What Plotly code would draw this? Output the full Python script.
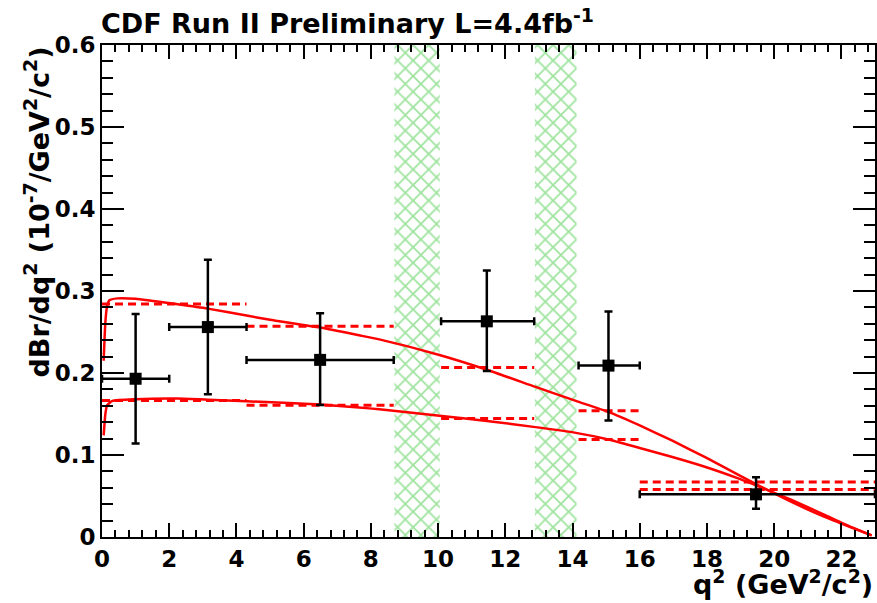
import plotly.graph_objects as go

# ---------------- data ----------------
# measured points (CDF Run II)
q2_center = [1.0, 3.15, 6.49, 11.45, 15.07, 19.46]
q2_lo = [0.0, 2.0, 4.3, 10.09, 14.18, 16.0]
q2_hi = [2.0, 4.3, 8.68, 12.86, 16.0, 23.0]
dbr = [0.193, 0.256, 0.216, 0.263, 0.209, 0.052]
dbr_up = [0.272, 0.338, 0.273, 0.325, 0.275, 0.073]
dbr_dn = [0.114, 0.174, 0.161, 0.2025, 0.142, 0.0346]

# binned theory predictions (dashed)
th_lo = [0.0, 4.3, 10.09, 14.18, 16.0]
th_hi = [4.3, 8.68, 12.86, 16.0, 23.0]
th_upper = [0.284, 0.257, 0.2066, 0.154, 0.067]
th_lower = [0.1665, 0.1607, 0.1444, 0.119, 0.0578]

# continuous theory curves (solid)
cu_x = [0.05, 0.1, 0.15, 0.22, 0.46, 1.0, 2.25, 3.15, 4.3, 5.0, 6.49, 7.65, 8.25,
        10.04, 11.45, 12.9, 14.1, 15.07, 16.0, 16.97, 17.96, 18.95, 19.46, 20.5, 21.5,
        22.3, 22.9]
cu_y = [0.215, 0.262, 0.281, 0.2887, 0.291, 0.2905, 0.2838, 0.2785, 0.270, 0.265, 0.2554,
        0.2460, 0.241, 0.222, 0.204, 0.183, 0.166, 0.1525, 0.136, 0.1175, 0.097, 0.0755,
        0.0645, 0.043, 0.0245, 0.0115, 0.002]
cl_x = [0.05, 0.1, 0.15, 0.31, 1.0, 2.25, 3.15, 4.3, 6.5, 7.65, 8.25, 10.04, 11.45,
        12.9, 14.1, 15.07, 16.0, 16.97, 17.96, 18.95, 19.46, 20.5, 21.5, 22.3, 22.9]
cl_y = [0.124, 0.150, 0.1606, 0.1659, 0.168, 0.1688, 0.1675, 0.1655, 0.1615, 0.158, 0.1557,
        0.1480, 0.1415, 0.134, 0.127, 0.119, 0.1085, 0.0976, 0.0854, 0.0712, 0.063, 0.0455,
        0.027, 0.012, 0.002]

# charmonium veto regions (hatched)
veto_lo = [8.70, 12.88]
veto_hi = [10.05, 14.12]

x_ticks = [0, 2, 4, 6, 8, 10, 12, 14, 16, 18, 20, 22]
y_ticks = [0, 0.1, 0.2, 0.3, 0.4, 0.5, 0.6]
X_RANGE = [0, 23]
Y_RANGE = [0, 0.6]

FONT = "DejaVu Sans"
RED = "#ff0000"
GREEN = "#3fc83f"

fig = go.Figure()

# hatched veto bands
fig.add_trace(go.Bar(
    x=[(a + b) / 2 for a, b in zip(veto_lo, veto_hi)],
    y=[Y_RANGE[1] - Y_RANGE[0]] * len(veto_lo),
    base=[Y_RANGE[0]] * len(veto_lo),
    width=[b - a for a, b in zip(veto_lo, veto_hi)],
    marker=dict(color="rgba(0,0,0,0)", line=dict(width=0),
                pattern=dict(shape="x", fgcolor=GREEN, bgcolor="rgba(0,0,0,0)",
                             size=11, solidity=0.3, fillmode="overlay")),
    hoverinfo="skip", showlegend=False,
))

# dashed binned predictions
for vals in (th_upper, th_lower):
    xs, ys = [], []
    for a, b, v in zip(th_lo, th_hi, vals):
        xs += [a, b, None]
        ys += [v, v, None]
    fig.add_trace(go.Scatter(x=xs, y=ys, mode="lines",
                             line=dict(color=RED, width=3, dash="8px,5px"),
                             showlegend=False, hoverinfo="skip"))

# solid curves
for cx, cy in ((cu_x, cu_y), (cl_x, cl_y)):
    fig.add_trace(go.Scatter(x=cx, y=cy, mode="lines",
                             line=dict(color=RED, width=2.5, shape="spline", smoothing=0.5),
                             showlegend=False))

# data points
fig.add_trace(go.Scatter(
    x=q2_center, y=dbr, mode="markers",
    marker=dict(symbol="square", size=12, color="black"),
    error_x=dict(type="data", symmetric=False,
                 array=[h - c for h, c in zip(q2_hi, q2_center)],
                 arrayminus=[c - l for l, c in zip(q2_lo, q2_center)],
                 color="black", thickness=2.5, width=4),
    error_y=dict(type="data", symmetric=False,
                 array=[u - v for u, v in zip(dbr_up, dbr)],
                 arrayminus=[v - d for d, v in zip(dbr_dn, dbr)],
                 color="black", thickness=2.5, width=4),
    showlegend=False,
))

axis_common = dict(
    showline=True, linecolor="black", linewidth=2, mirror="ticks",
    ticks="inside", tickcolor="black", tickwidth=2,
    showgrid=False, zeroline=False, automargin=False,
    tickfont=dict(family=FONT, size=23, color="black", weight="bold"),
)

fig.update_xaxes(range=X_RANGE, tickvals=x_ticks, ticklen=14,
                 minor=dict(dtick=0.4, ticklen=7, tickwidth=1.5, tickcolor="black", ticks="inside"),
                 **axis_common)
fig.update_yaxes(range=Y_RANGE, tickvals=y_ticks, ticktext=[f"{v:g}" for v in y_ticks],
                 ticklen=22,
                 minor=dict(dtick=0.02, ticklen=11, tickwidth=1.5, tickcolor="black", ticks="inside"),
                 **axis_common)

fig.update_layout(
    width=877, height=603,
    margin=dict(l=102, r=2, t=45, b=66),
    paper_bgcolor="white", plot_bgcolor="white",
    font=dict(family=FONT, color="black"),
    barmode="overlay",
    annotations=[
        dict(text="<b>CDF Run II Preliminary L=4.4fb<sup>-1</sup></b>",
             xref="paper", yref="paper", x=0, y=1, xanchor="left", yanchor="bottom",
             xshift=-3, yshift=4, showarrow=False,
             font=dict(family=FONT, size=27, color="black")),
        dict(text="<b>q<sup>2</sup> (GeV<sup>2</sup>/c<sup>2</sup>)</b>",
             xref="paper", yref="paper", x=1, y=0, xanchor="right", yanchor="top",
             yshift=-26, showarrow=False,
             font=dict(family=FONT, size=27, color="black")),
        dict(text="<b>dBr/dq<sup>2</sup> (10<sup>-7</sup>/GeV<sup>2</sup>/c<sup>2</sup>)</b>",
             xref="paper", yref="paper", x=0, y=1, xanchor="center", yanchor="top",
             xshift=-65, textangle=-90, showarrow=False,
             font=dict(family=FONT, size=27, color="black")),
    ],
)

fig.write_html(
    "out.html",
    config={"displayModeBar": False},
    post_script="document.body.style.margin='0px';document.body.style.overflow='hidden';",
)
